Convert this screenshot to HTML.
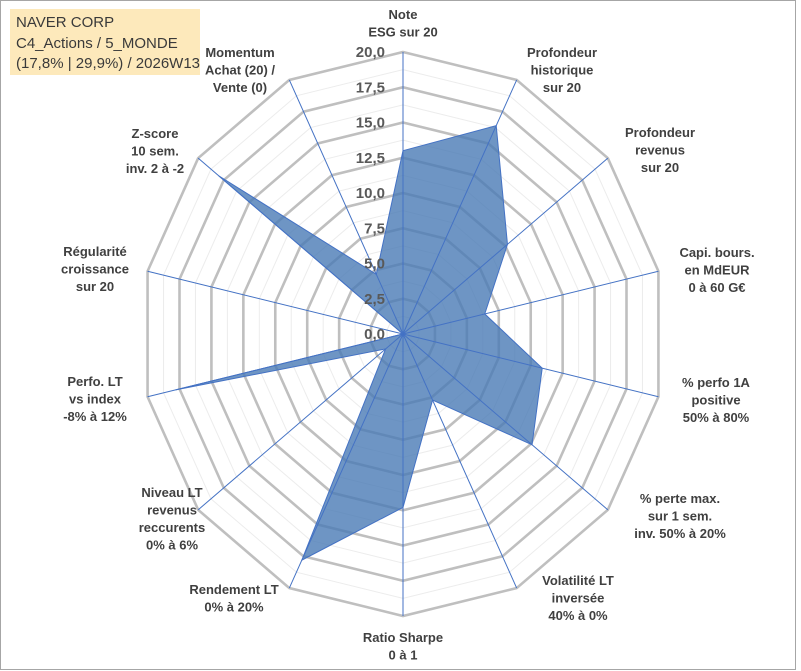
<!DOCTYPE html>
<html><head><meta charset="utf-8">
<style>
body{margin:0;background:#fff;}
svg{display:block;font-family:"Liberation Sans",sans-serif;}
.lbl{font-weight:bold;font-size:13px;fill:#404040;text-anchor:middle;}
.tick{font-weight:bold;font-size:15px;fill:#595959;text-anchor:end;}
</style></head>
<body>
<svg id="chart" width="801" height="671">
<rect x="0.5" y="0.5" width="795" height="669" fill="#fff" stroke="#a6a6a6"/>
<rect x="10" y="9" width="190" height="66" fill="#fde9bb"/>
<text x="16" y="27" font-size="15" fill="#3a3a3a">NAVER CORP</text>
<text x="16" y="48" font-size="15" fill="#3a3a3a">C4_Actions / 5_MONDE</text>
<text x="16" y="68" font-size="15" fill="#3a3a3a">(17,8% | 29,9%) / 2026W13</text>
<g id="grid"></g>
<g id="series"></g>
<g id="axes"></g>
<g id="ticks"></g>
<g id="labels"></g>
</svg>
<script>
const categories=[["Note","ESG sur 20"],["Profondeur","historique","sur 20"],["Profondeur","revenus","sur 20"],["Capi. bours.","en MdEUR","0 à 60 G€"],["% perfo 1A","positive","50% à 80%"],["% perte max.","sur 1 sem.","inv. 50% à 20%"],["Volatilité LT","inversée","40% à 0%"],["Ratio Sharpe","0 à 1"],["Rendement LT","0% à 20%"],["Niveau LT","revenus","reccurents","0% à 6%"],["Perfo. LT","vs index","-8% à 12%"],["Régularité","croissance","sur 20"],["Z-score","10 sem.","inv. 2 à -2"],["Momentum","Achat (20) /","Vente (0)"]];
const values=[13.0,16.4,10.2,6.4,10.9,12.6,5.2,12.3,17.8,1.7,17.8,0,18.0,4.7];
const tickLabels=["0,0","2,5","5,0","7,5","10,0","12,5","15,0","17,5","20,0"];
const maxVal=20;
const labelPos=[[403,19],[562,57],[660,137],[717,257],[716,387],[680,503],[578,585],[403,642],[234,594],[172,497],[95,386],[95,256],[155,138],[240,57]];
const CX=403,CY=334,RX=262,RY=282,N=categories.length;
const NS="http://www.w3.org/2000/svg";
function pt(i,v){const a=i*2*Math.PI/N;return [CX+Math.sin(a)*RX*v/maxVal,CY-Math.cos(a)*RY*v/maxVal];}
function mk(t,attrs,parent){const e=document.createElementNS(NS,t);for(const k in attrs)e.setAttribute(k,attrs[k]);parent.appendChild(e);return e;}
const grid=document.getElementById('grid');
for(let k=1;k<=16;k++){const v=k*1.25;const pts=[];for(let i=0;i<N;i++)pts.push(pt(i,v).join(','));
 const major=k%2===0;
 const p=mk('polygon',{points:pts.join(' '),fill:'none',stroke:major?'#bfbfbf':'#ececec','stroke-width':major?2.6:1},grid);
 
 }
const ser=document.getElementById('series');
const sp=values.map((v,i)=>pt(i,v).join(',')).join(' ');
const poly=mk('polygon',{points:sp,fill:'#4a7ab5','fill-opacity':0.8,stroke:'#4472c4','stroke-width':1},ser);


const axes=document.getElementById('axes');
for(let i=0;i<N;i++){const e=pt(i,maxVal);
 const l=mk('line',{x1:CX,y1:CY,x2:e[0],y2:e[1],stroke:'#4472c4','stroke-width':1},axes);
 
 }
const ticks=document.getElementById('ticks');
tickLabels.forEach((t,k)=>{const v=k*maxVal/(tickLabels.length-1);const p=pt(0,v);
 const tx=mk('text',{x:p[0]-18,y:p[1]+5,class:'tick'},ticks);tx.textContent=t;
 
 });
const labels=document.getElementById('labels');
categories.forEach((c,i)=>{const [x,y]=labelPos[i];
 const tx=mk('text',{x:x,y:y,class:'lbl'},labels);
 
 
 c.forEach((s,j)=>{const ts=mk('tspan',{x:x,dy:j?17.5:0},tx);ts.textContent=s;});});
</script>
</body></html>
